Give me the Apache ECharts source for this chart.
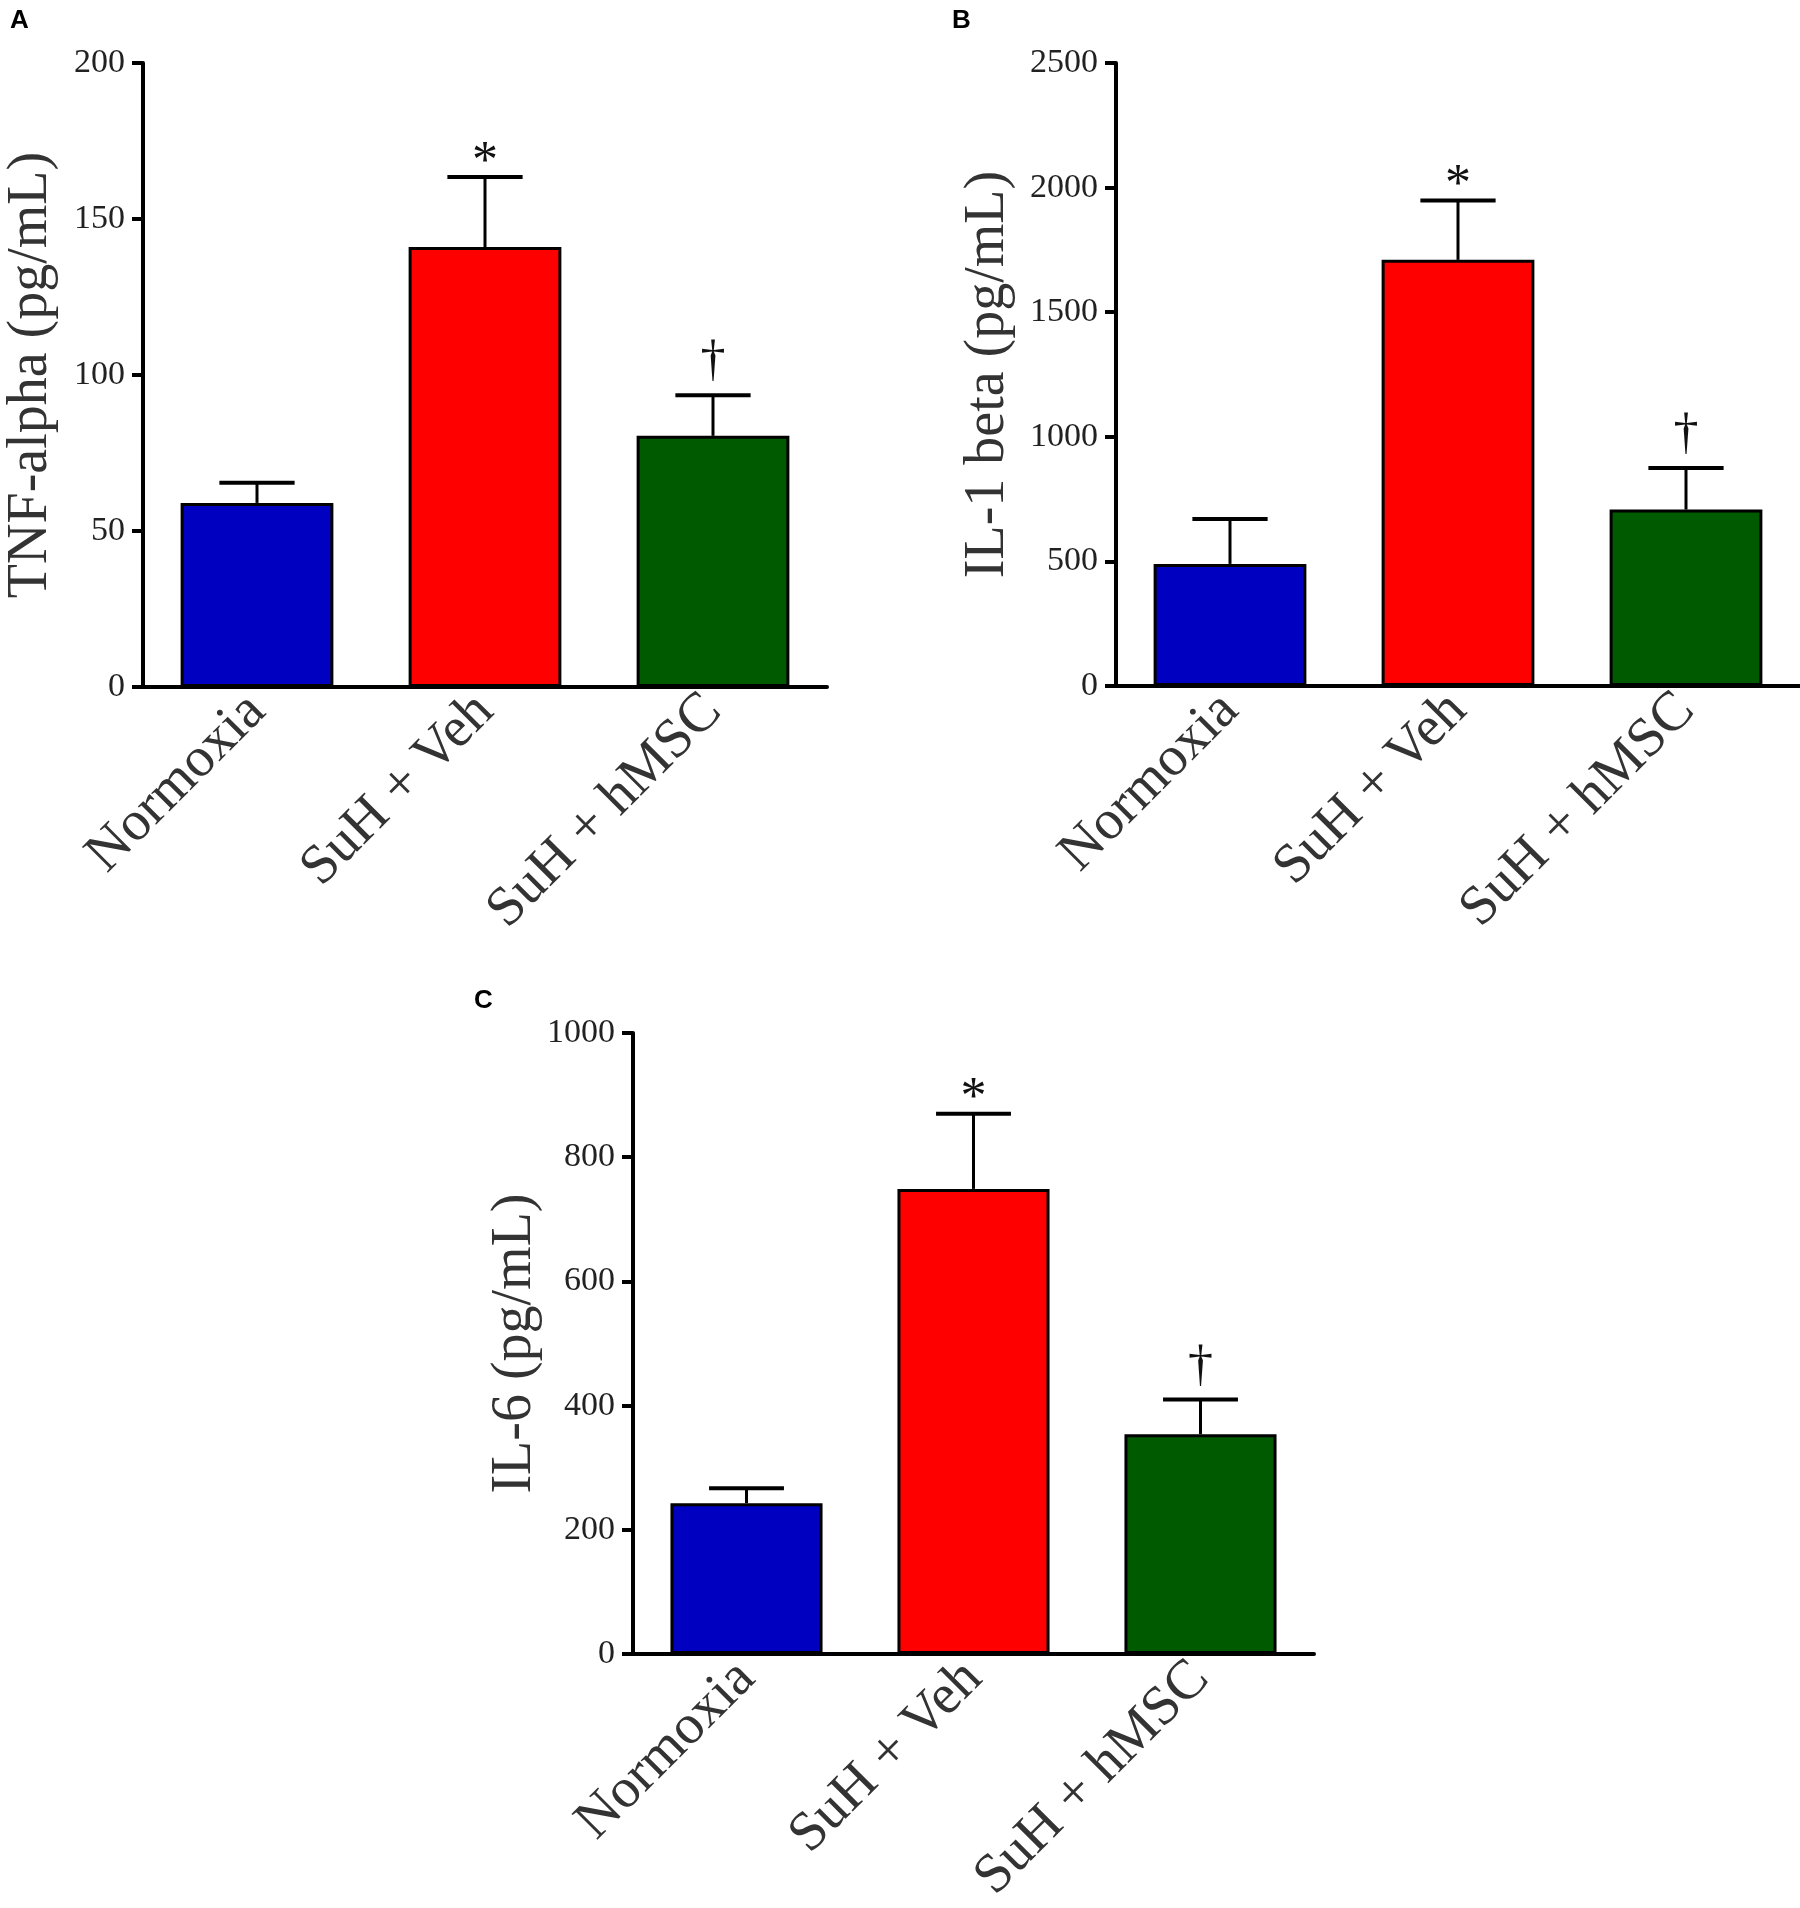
<!DOCTYPE html>
<html>
<head>
<meta charset="utf-8">
<script src="https://cdn.jsdelivr.net/npm/echarts@6/dist/echarts.min.js"></script>
<style>
  html, body { margin: 0; padding: 0; background: #fff; }
  #chart { width: 1800px; height: 1908px; }
</style>
</head>
<body>
<div id="chart"></div>
<script>
// groups on the x axis
const categories = ['Normoxia', 'SuH + Veh', 'SuH + hMSC'];
const barColors = ['#0000c0', '#ff0000', '#005a00'];
const marks = ['', '*', '\u2020'];

// A: TNF-alpha, mean and top of the error bar
const tnfMean = [59, 141, 80.5];
const tnfErr = [65.5, 163.5, 93.5];
// B: IL-1 beta
const il1Mean = [490, 1710, 708];
const il1Err = [670, 1948, 875];
// C: IL-6
const il6Mean = [243, 749, 354];
const il6Err = [267, 870, 410];

const serif = 'Liberation Serif';

var chart = echarts.init(document.getElementById('chart'));

function xAxisFor(i) {
  return {
    type: 'category',
    gridIndex: i,
    data: categories,
    axisLine: { lineStyle: { color: '#000', width: 4 } },
    axisTick: { show: false },
    axisLabel: {
      rotate: 45, margin: 16, fontSize: 56,
      fontFamily: serif, color: '#333'
    }
  };
}

function yAxisFor(i, max, step, title, gap) {
  return {
    type: 'value',
    gridIndex: i,
    min: 0, max: max, interval: step,
    name: title,
    nameLocation: 'middle',
    nameGap: gap,
    nameTextStyle: { fontSize: 56, fontFamily: serif, color: '#333' },
    axisLine: { show: true, lineStyle: { color: '#000', width: 4 } },
    axisTick: { show: true, length: 11, lineStyle: { color: '#000', width: 4 } },
    splitLine: { show: false },
    axisLabel: {
      fontSize: 34, fontFamily: serif, color: '#222', margin: 18,
      formatter: function (v) { return String(v); }
    }
  };
}

function barSeries(i, means) {
  return {
    type: 'bar',
    xAxisIndex: i, yAxisIndex: i,
    barWidth: '67%',
    data: means.map(function (v, k) {
      return { value: v, itemStyle: { color: barColors[k] } };
    }),
    itemStyle: { borderColor: '#000', borderWidth: 3 },
    silent: true
  };
}

function errSeries(i, means, errs) {
  return {
    type: 'custom',
    xAxisIndex: i, yAxisIndex: i,
    data: means.map(function (v, k) { return [k, v, errs[k]]; }),
    renderItem: function (params, api) {
      var base = api.coord([api.value(0), api.value(1)]);
      var top = api.coord([api.value(0), api.value(2)]);
      var half = api.size([1, 0])[0] * 0.165;
      var children = [
        { type: 'line', shape: { x1: base[0], y1: base[1], x2: top[0], y2: top[1] },
          style: { stroke: '#000', lineWidth: 3 } },
        { type: 'line', shape: { x1: top[0] - half, y1: top[1], x2: top[0] + half, y2: top[1] },
          style: { stroke: '#000', lineWidth: 4 } }
      ];
      var m = marks[params.dataIndex];
      if (m) {
        children.push({
          type: 'text',
          style: {
            text: m, x: top[0], y: top[1] - (m === '*' ? 14 : 33),
            fontSize: m === '*' ? 52 : 50, fontFamily: serif, fill: '#111',
            align: 'center', verticalAlign: 'middle'
          }
        });
      }
      return { type: 'group', children: children };
    },
    z: 3
  };
}

var option = {
  animation: false,
  backgroundColor: '#fff',
  grid: [
    { left: 143, top: 63, width: 684, height: 624 },
    { left: 1116, top: 63, width: 684, height: 623 },
    { left: 633, top: 1033, width: 681, height: 622 }
  ],
  xAxis: [xAxisFor(0), xAxisFor(1), xAxisFor(2)],
  yAxis: [
    yAxisFor(0, 200, 50, 'TNF-alpha (pg/mL)', 84),
    yAxisFor(1, 2500, 500, 'IL-1 beta (pg/mL)', 100),
    yAxisFor(2, 1000, 200, 'IL-6 (pg/mL)', 88)
  ],
  graphic: [
    { type: 'text', left: 10, top: 8, style: { text: 'A', font: 'bold 26px "Liberation Sans"', fill: '#000' } },
    { type: 'text', left: 952, top: 8, style: { text: 'B', font: 'bold 26px "Liberation Sans"', fill: '#000' } },
    { type: 'text', left: 474, top: 988, style: { text: 'C', font: 'bold 26px "Liberation Sans"', fill: '#000' } }
  ],
  series: [
    barSeries(0, tnfMean), errSeries(0, tnfMean, tnfErr),
    barSeries(1, il1Mean), errSeries(1, il1Mean, il1Err),
    barSeries(2, il6Mean), errSeries(2, il6Mean, il6Err)
  ]
};

chart.setOption(option);
</script>
</body>
</html>
